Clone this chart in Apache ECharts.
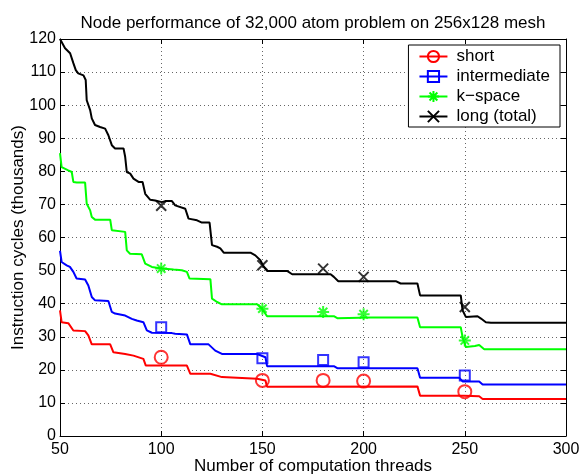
<!DOCTYPE html>
<html>
<head>
<meta charset="utf-8">
<script src="https://cdn.jsdelivr.net/npm/echarts@6/dist/echarts.min.js"></script>
<style>
  html, body { margin: 0; padding: 0; background: #fff; }
  #main { width: 580px; height: 476px; }
</style>
</head>
<body>
<div id="main"></div>
<script>
// traced curves, [threads, cycles (thousands)]
var shortLine = [[50,38],[50.8,34.4],[54.1,34.1],[56.6,31.9],[62.4,31.7],[64,30.4],[65.7,27.7],[74.8,27.7],[76.4,25.3],[82.2,24.8],[86.3,24.3],[91.2,23.3],[92.4,21.3],[112.7,21.3],[114.4,18.8],[124.3,18.8],[130,17.8],[147.4,17.3],[151.5,16.8],[152.3,14.9],[226.6,15],[227.9,12.2],[249.7,12.2],[257.1,12],[258.8,11.2],[300,11.2]];
var interLine = [[50,56],[50.8,52.6],[53.3,51.6],[54.9,51.1],[56.6,49.6],[58.2,47.6],[62.4,47.3],[64,45.5],[65.7,42],[67.3,41],[73.9,40.8],[75.6,37.5],[77.2,37],[82.2,36.4],[85.5,35.4],[87.9,34.9],[91.2,34.4],[92.9,31.9],[95.4,31.2],[105.3,31.1],[106.9,30.9],[112.7,30.7],[114.4,27.7],[123.4,27.7],[126.7,25.8],[130,24.8],[147.4,24.8],[151.5,23.8],[152.3,21.1],[185.3,21.1],[187,20.5],[226.6,20.5],[227.9,17.6],[247.2,17.6],[248.9,16.5],[257.1,16.5],[258.8,15.6],[300,15.6]];
var kspaceLine = [[50,85.5],[50.8,81.3],[54.1,80.3],[55.8,79.8],[56.6,76.8],[58.3,76.6],[62.4,76.6],[63.2,70.2],[64.9,68.2],[65.7,66.2],[67.3,65.4],[74.8,65.4],[75.6,62.2],[82.2,61.7],[83,56.1],[84.6,55.1],[90.4,54.9],[92.1,52.1],[95.4,51.1],[100.3,50.6],[106.1,50.3],[110.2,50.1],[112.7,49.6],[114,47.6],[124.3,47.4],[125.1,41.5],[127.6,40.5],[130,39.8],[147.4,39.8],[149.8,38.5],[152.3,36.2],[185.3,36.2],[187,35.6],[203.5,35.8],[226.6,35.8],[227.9,32.9],[248,32.9],[248.9,29.9],[250.5,26.9],[255,27.2],[257.1,27.5],[259.6,26.2],[300,26.2]];
var longLine = [[50,120],[52.5,117.2],[55,115.7],[56.6,112.7],[57.8,110.6],[59,109.6],[61.6,109],[62.7,107.6],[63.2,101.5],[64.9,98.5],[65.7,96],[67.3,94],[69.8,93.4],[72.3,92.9],[73.9,90.9],[75.6,87.9],[77.2,86.9],[81.4,86.9],[82.2,84.4],[83,79.8],[84.7,79.3],[86.3,77.8],[88.8,76.8],[90.8,76.8],[92.1,73.2],[94.6,71.4],[97,71.2],[100.3,70.7],[102,71],[105.3,71],[106.9,69.7],[111.9,68.7],[113.5,65.7],[117.7,65.2],[120.1,64.5],[123.9,64.5],[125.1,57.7],[127.6,57.2],[129.2,56.7],[130.9,55.4],[144.1,55.4],[146.5,54.6],[149,53.1],[150.7,51.1],[152.3,49.9],[162.2,49.9],[164.7,48.9],[183.7,48.9],[185.3,48.1],[187.5,46.8],[215.9,46.8],[218.3,46.1],[226.6,46.1],[227.9,42.5],[248,42.5],[248.9,38],[250.5,36],[256.3,36.2],[258,35.5],[260.4,34.4],[262.9,34.2],[300,34.2]];

// measured points
var markX = [100, 150, 180, 200, 250];
var shortPts = [23.8, 16.8, 16.8, 16.6, 13.4];
var interPts = [32.9, 23.5, 23.0, 22.3, 18.3];
var kspacePts = [50.6, 38.5, 37.5, 36.8, 28.9];
var longPts = [69.6, 51.6, 50.6, 48.1, 39.0];

var names = ['short', 'intermediate', 'k\u2212space', 'long (total)'];

var xMark = 'path://M0,0L10,10M10,0L0,10';
var starMark = 'path://M5,0L5,10M0,5L10,5M1.5,1.5L8.5,8.5M8.5,1.5L1.5,8.5';

var chartDom = document.getElementById('main');
var myChart = echarts.init(chartDom);
var option;

function pts(ys) {
    return markX.map(function (x, i) { return [x, ys[i]]; });
}

function lineSeries(name, data, color, symbol, size) {
    return {
        name: name,
        type: 'line',
        data: data,
        symbol: symbol,
        symbolSize: size,
        showSymbol: false,
        lineStyle: { color: color, width: 2 },
        itemStyle: { color: 'transparent', borderColor: color, borderWidth: 2 },
        silent: true,
        z: 3
    };
}

function markSeries(data, color, symbol, size) {
    return {
        type: 'scatter',
        data: data,
        symbol: symbol,
        symbolSize: size,
        itemStyle: { color: 'transparent', borderColor: color, borderWidth: 2 },
        silent: true,
        z: 4
    };
}

var tickFont = { fontFamily: 'Liberation Sans', fontSize: 16, color: '#000' };
var nameFont = { fontFamily: 'Liberation Sans', fontSize: 17, color: '#000' };

option = {
    animation: false,
    backgroundColor: '#fff',
    textStyle: { fontFamily: 'Liberation Sans' },
    title: {
        text: 'Node performance of 32,000 atom problem on 256x128 mesh',
        left: 313,
        textAlign: 'center',
        top: 15,
        padding: 0,
        textStyle: { fontFamily: 'Liberation Sans', fontSize: 17, fontWeight: 'normal', color: '#000' }
    },
    legend: {
        orient: 'vertical',
        right: 20,
        top: 45,
        data: names,
        itemWidth: 28,
        itemHeight: 14,
        itemGap: 3,
        padding: [3, 10, 2, 10],
        backgroundColor: '#fff',
        borderColor: '#000',
        borderWidth: 1,
        textStyle: { fontFamily: 'Liberation Sans', fontSize: 17, color: '#000', padding: [0, 0, 0, 4] }
    },
    grid: { left: 60, right: 14, top: 39, bottom: 40, outerBoundsMode: 'none' },
    xAxis: [{
        type: 'value',
        min: 50,
        max: 300,
        interval: 50,
        name: 'Number of computation threads',
        nameLocation: 'middle',
        nameGap: 22,
        nameMoveOverlap: false,
        nameTextStyle: nameFont,
        axisLine: { onZero: false, lineStyle: { color: '#000', width: 1 } },
        axisTick: { inside: true, length: 5, lineStyle: { color: '#000' } },
        axisLabel: Object.assign({ margin: 6 }, tickFont),
        splitLine: { show: true, lineStyle: { color: '#666', type: [1, 3] } }
    }, {
        type: 'value',
        position: 'top',
        min: 50,
        max: 300,
        interval: 50,
        axisLine: { onZero: false, lineStyle: { color: '#000', width: 1 } },
        axisTick: { inside: true, length: 5, lineStyle: { color: '#000' } },
        axisLabel: { show: false },
        splitLine: { show: false }
    }],
    yAxis: [{
        type: 'value',
        min: 0,
        max: 120,
        interval: 10,
        name: 'Instruction cycles (thousands)',
        nameLocation: 'middle',
        nameGap: 33,
        nameMoveOverlap: false,
        nameTextStyle: nameFont,
        axisLine: { show: true, onZero: false, lineStyle: { color: '#000', width: 1 } },
        axisTick: { show: true, inside: true, length: 5, lineStyle: { color: '#000' } },
        axisLabel: Object.assign({ margin: 4 }, tickFont),
        splitLine: { show: true, lineStyle: { color: '#666', type: [1, 3] } }
    }, {
        type: 'value',
        position: 'right',
        min: 0,
        max: 120,
        interval: 10,
        axisLine: { show: true, onZero: false, lineStyle: { color: '#000', width: 1 } },
        axisTick: { show: true, inside: true, length: 5, lineStyle: { color: '#000' } },
        axisLabel: { show: false },
        splitLine: { show: false }
    }],
    series: [
        lineSeries(names[0], shortLine, '#ff0000', 'circle', 13),
        lineSeries(names[1], interLine, '#0000ff', 'rect', 11),
        lineSeries(names[2], kspaceLine, '#00ff00', starMark, 11),
        lineSeries(names[3], longLine, '#000000', xMark, 9),
        markSeries(pts(shortPts), '#ff0000', 'circle', 13),
        markSeries(pts(interPts), '#0000ff', 'rect', 10),
        markSeries(pts(kspacePts), '#00ff00', starMark, 12),
        markSeries(pts(longPts), '#000000', xMark, 10)
    ]
};

option && myChart.setOption(option);
</script>
</body>
</html>
